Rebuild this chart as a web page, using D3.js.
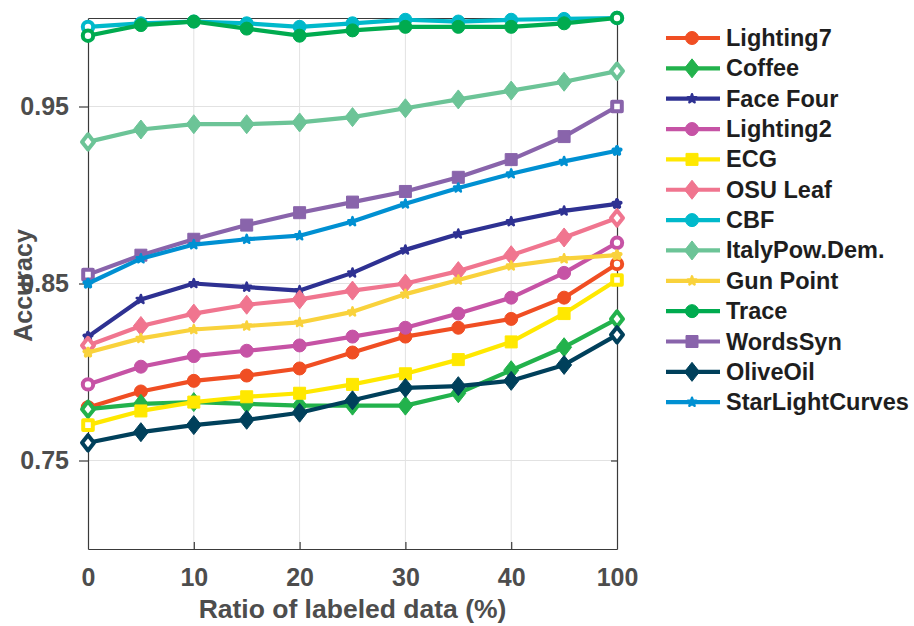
<!DOCTYPE html>
<html>
<head>
<meta charset="utf-8">
<script src="https://cdn.jsdelivr.net/npm/d3@7"></script>
<style>
  body { margin: 0; background: #fff; }
  text { font-family: "Liberation Sans", Arial, Helvetica, sans-serif; font-weight: bold; }
</style>
</head>
<body>
<svg id="chart"></svg>
<script>
// x categories (ratio of labeled data, %) and which of them get a tick label
var ratios = ["0", "5", "10", "15", "20", "25", "30", "35", "40", "45", "100"];
var tickRatios = ["0", "10", "20", "30", "40", "100"];
var yTicks = [0.75, 0.85, 0.95];

// accuracy per dataset
var lighting7 = [0.780, 0.789, 0.795, 0.798, 0.802, 0.811, 0.820, 0.825, 0.830, 0.842, 0.861];
var coffee    = [0.779, 0.782, 0.783, 0.782, 0.781, 0.781, 0.781, 0.788, 0.801, 0.814, 0.830];
var faceFour  = [0.820, 0.841, 0.850, 0.848, 0.846, 0.856, 0.869, 0.878, 0.885, 0.891, 0.895];
var lighting2 = [0.793, 0.803, 0.809, 0.812, 0.815, 0.820, 0.825, 0.833, 0.842, 0.856, 0.873];
var ecg       = [0.770, 0.778, 0.783, 0.786, 0.788, 0.793, 0.799, 0.807, 0.817, 0.833, 0.852];
var osuLeaf   = [0.815, 0.826, 0.833, 0.838, 0.841, 0.846, 0.850, 0.857, 0.866, 0.876, 0.887];
var cbf       = [0.995, 0.997, 0.998, 0.997, 0.995, 0.997, 0.999, 0.998, 0.999, 0.9995, 1.000];
var italyPow  = [0.930, 0.937, 0.940, 0.940, 0.941, 0.944, 0.949, 0.954, 0.959, 0.964, 0.970];
var gunPoint  = [0.811, 0.819, 0.824, 0.826, 0.828, 0.834, 0.844, 0.852, 0.860, 0.864, 0.866];
var trace     = [0.990, 0.996, 0.998, 0.994, 0.990, 0.993, 0.995, 0.995, 0.995, 0.997, 1.000];
var wordsSyn  = [0.855, 0.866, 0.875, 0.883, 0.890, 0.896, 0.902, 0.910, 0.920, 0.933, 0.950];
var oliveOil  = [0.760, 0.766, 0.770, 0.773, 0.777, 0.784, 0.791, 0.792, 0.795, 0.804, 0.821];
var starLight = [0.850, 0.864, 0.872, 0.875, 0.877, 0.885, 0.895, 0.904, 0.912, 0.919, 0.925];

var seriesNames = ["Lighting7", "Coffee", "Face Four", "Lighting2", "ECG", "OSU Leaf", "CBF",
                   "ItalyPow.Dem.", "Gun Point", "Trace", "WordsSyn", "OliveOil", "StarLightCurves"];
var seriesValues = [lighting7, coffee, faceFour, lighting2, ecg, osuLeaf, cbf,
                    italyPow, gunPoint, trace, wordsSyn, oliveOil, starLight];

// styles kept apart from the data
var seriesColors = ["#f04e23", "#22b24c", "#2e3192", "#c653a5", "#ffe800", "#f0758f", "#00b9cb",
                    "#6cc497", "#f9d23c", "#00ab4f", "#8964ab", "#00405b", "#0090d2"];
var seriesMarkers = ["circle", "diamond", "star", "circle", "square", "diamond", "circle",
                     "diamond", "star", "circle", "square", "diamond", "star"];

var width = 914, height = 626;
var pLeft = 88, pRight = 617, pTop = 18, pBottom = 549;

var svg = d3.select("#chart").attr("width", width).attr("height", height);

var x = d3.scalePoint().domain(ratios).range([pLeft, pRight]);
var y = d3.scaleLinear().domain([0.70, 1.00]).range([pBottom, pTop]);

// marker path for a given shape, centred on 0,0
function markerPath(shape, big) {
    var k = big ? 1 : 0.8;
    if (shape == "circle") {
        var r = 6.5 * k;
        return "M" + (-r) + ",0A" + r + "," + r + " 0 1,0 " + r + ",0A" + r + "," + r + " 0 1,0 " + (-r) + ",0Z";
    }
    if (shape == "diamond") {
        var w = 7.5 * k, h = 9.5 * k;
        return "M0," + (-h) + "L" + w + ",0L0," + h + "L" + (-w) + ",0Z";
    }
    if (shape == "square") {
        var s = 6 * k;
        return "M" + (-s) + "," + (-s) + "H" + s + "V" + s + "H" + (-s) + "Z";
    }
    return d3.symbol().type(d3.symbolStar).size(big ? 22 : 16)();
}

// grid
var grid = svg.append("g");
grid.selectAll("line.gx")
    .data(tickRatios.slice(1, 5))
    .enter()
    .append("line")
    .attr("x1", function(d) { return x(d); })
    .attr("x2", function(d) { return x(d); })
    .attr("y1", pTop)
    .attr("y2", pBottom)
    .attr("stroke", "#e2e2e2")
    .attr("stroke-width", 1);
grid.selectAll("line.gy")
    .data(yTicks)
    .enter()
    .append("line")
    .attr("x1", pLeft)
    .attr("x2", pRight)
    .attr("y1", function(d) { return y(d); })
    .attr("y2", function(d) { return y(d); })
    .attr("stroke", "#e2e2e2")
    .attr("stroke-width", 1);

// axes
var axisColor = "#3a3a3a";
var labelColor = "#4d4d4d";

var xAxis = svg.append("g")
    .attr("transform", "translate(0," + pBottom + ")")
    .call(d3.axisBottom(x).tickValues(tickRatios).tickSizeInner(-7).tickSizeOuter(0).tickPadding(19));
var yAxis = svg.append("g")
    .attr("transform", "translate(" + pLeft + ",0)")
    .call(d3.axisLeft(y).tickValues(yTicks).tickSizeInner(9).tickSizeOuter(0).tickPadding(10).tickFormat(d3.format(".2f")));
var yAxisR = svg.append("g")
    .attr("transform", "translate(" + pRight + ",0)")
    .call(d3.axisRight(y).tickValues(yTicks).tickSizeInner(-6).tickSizeOuter(0).tickFormat(""));
var xAxisT = svg.append("g")
    .attr("transform", "translate(0," + pTop + ")")
    .call(d3.axisTop(x).tickValues([]).tickSizeOuter(0));

[xAxis, yAxis, yAxisR, xAxisT].forEach(function(a) {
    a.select(".domain").attr("stroke", axisColor).attr("stroke-width", 1.2);
    a.selectAll(".tick line").attr("stroke", axisColor).attr("stroke-width", 1.2);
});
xAxis.selectAll(".tick line").filter(function(d) { return d == "0" || d == "100"; }).remove();
xAxis.selectAll(".tick text")
    .attr("fill", labelColor)
    .style("font-size", "25px");
yAxis.selectAll(".tick text")
    .attr("fill", labelColor)
    .style("font-size", "25px");

// axis titles
svg.append("text")
    .attr("x", (pLeft + pRight) / 2)
    .attr("y", 618)
    .attr("text-anchor", "middle")
    .attr("fill", labelColor)
    .style("font-size", "26.5px")
    .text("Ratio of labeled data (%)");
svg.append("text")
    .attr("transform", "translate(32," + ((pTop + pBottom) / 2 + 2) + ") rotate(-90)")
    .attr("text-anchor", "middle")
    .attr("fill", labelColor)
    .style("font-size", "25px")
    .text("Accuracy");

// lines and markers
var line = d3.line()
    .x(function(d, i) { return x(ratios[i]); })
    .y(function(d) { return y(d); });

var plot = svg.append("g");
for (var i = 0; i < seriesValues.length; i++) {
    var g = plot.append("g");
    var col = seriesColors[i];
    var shape = seriesMarkers[i];
    g.append("path")
        .attr("fill", "none")
        .attr("stroke", col)
        .attr("stroke-width", 4.2)
        .attr("stroke-linejoin", "round")
        .attr("d", line(seriesValues[i]));
    g.selectAll("path.m")
        .data(seriesValues[i])
        .enter()
        .append("path")
        .attr("class", "m")
        .attr("transform", function(d, j) { return "translate(" + x(ratios[j]) + "," + y(d) + ")"; })
        .attr("d", function(d, j) {
            var end = (j == 0 || j == ratios.length - 1);
            return markerPath(shape, !end);
        })
        .attr("fill", function(d, j) {
            return (j == 0 || j == ratios.length - 1) ? "#fff" : col;
        })
        .attr("stroke", col)
        .attr("stroke-width", function(d, j) {
            if (j == 0 || j == ratios.length - 1) return 4;
            return shape == "star" ? 2.5 : 1;
        })
        .attr("stroke-linejoin", "round");
}

// legend
var legX = 666, legY = 38, legStep = 30.35;
var leg = svg.append("g");
for (var i = 0; i < seriesNames.length; i++) {
    var ly = legY + i * legStep;
    leg.append("line")
        .attr("x1", legX)
        .attr("x2", legX + 54)
        .attr("y1", ly)
        .attr("y2", ly)
        .attr("stroke", seriesColors[i])
        .attr("stroke-width", 4.2);
    leg.append("path")
        .attr("transform", "translate(" + (legX + 26) + "," + ly + ")")
        .attr("d", markerPath(seriesMarkers[i], true))
        .attr("fill", seriesColors[i])
        .attr("stroke", seriesColors[i])
        .attr("stroke-width", seriesMarkers[i] == "star" ? 2.5 : 1)
        .attr("stroke-linejoin", "round");
    leg.append("text")
        .attr("x", legX + 60)
        .attr("y", ly)
        .attr("dominant-baseline", "central")
        .attr("fill", "#1e1e1e")
        .style("font-size", "23.5px")
        .text(seriesNames[i]);
}
</script>
</body>
</html>
